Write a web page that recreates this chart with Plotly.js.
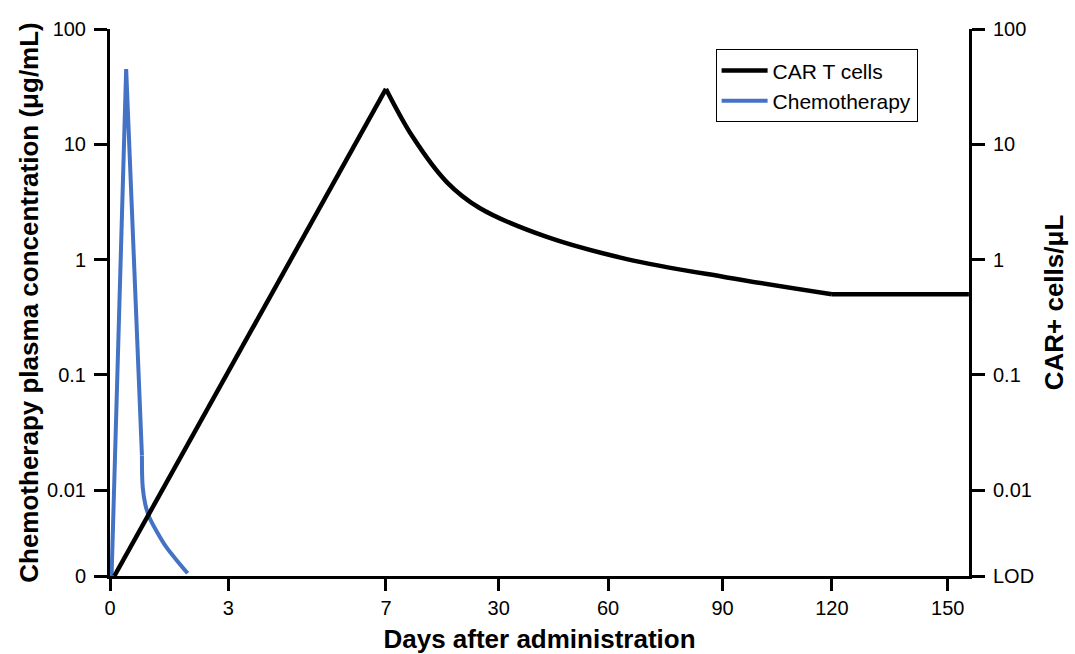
<!DOCTYPE html>
<html>
<head>
<meta charset="utf-8">
<script src="https://cdn.plot.ly/plotly-3.0.1.min.js"></script>
<style>html,body{margin:0;padding:0;background:#fff;}#chart{width:1075px;height:654px;}</style>
</head>
<body>
<div id="chart"></div>
<script>
// ---- data (days after administration, values) ----
const LOD = 0.0018; // limit of detection, shown as "0" / "LOD"

const carRiseDays    = [0.11, 7];
const carRiseValues  = [LOD, 30.2];
const carDecayDays   = [7, 12.45, 19.4, 26.1, 43.2, 64.9, 91.2, 120];
const carDecayValues = [30.2, 11.6, 4.7, 2.8, 1.57, 1.01, 0.70, 0.50];
const carPlateauDays   = [120, 155.5];
const carPlateauValues = [0.50, 0.50];

const chemoPeakDays   = [0.04, 0.41, 0.81];
const chemoPeakValues = [LOD, 45, 0.02];
const chemoTailDays   = [0.81, 0.83, 0.90, 1.0, 1.2, 1.43, 1.69, 1.97];
const chemoTailValues = [0.02, 0.0106, 0.0074, 0.0058, 0.0043, 0.0032, 0.00247, 0.0019];

const xTickDays   = [0, 3, 7, 30, 60, 90, 120, 150];
const xTickText   = ['0', '3', '7', '30', '60', '90', '120', '150'];
const yTickVals   = [100, 10, 1, 0.1, 0.01, LOD];
const yTickLeft   = ['100', '10', '1', '0.1', '0.01', '0'];
const yTickRight  = ['100', '10', '1', '0.1', '0.01', 'LOD'];

// ---- broken (piecewise linear) day axis ----
const KNOT_DAYS = [0, 7, 30, 60, 90, 120, 150];
const KNOT_POS  = [0, 275.8, 388.5, 497.8, 612.2, 721.5, 837.2];
function toPos(d) {
  for (let i = 0; i < KNOT_DAYS.length - 1; i++) {
    if (d <= KNOT_DAYS[i + 1] || i === KNOT_DAYS.length - 2) {
      const t = (d - KNOT_DAYS[i]) / (KNOT_DAYS[i + 1] - KNOT_DAYS[i]);
      return KNOT_POS[i] + t * (KNOT_POS[i + 1] - KNOT_POS[i]);
    }
  }
}

const FONT = '"Liberation Sans", Arial, sans-serif';
const yRange = [Math.log10(LOD), 2];
const BLACK = {color: '#000000', width: 4.5};
const BLUE = {color: '#4472C4', width: 4};

const traces = [
  {x: carRiseDays.map(toPos), y: carRiseValues, yaxis: 'y2', mode: 'lines',
   name: 'CAR T cells', line: BLACK},
  {x: carDecayDays.map(toPos), y: carDecayValues, yaxis: 'y2', mode: 'lines',
   name: 'CAR T cells', showlegend: false,
   line: Object.assign({shape: 'spline', smoothing: 1}, BLACK)},
  {x: carPlateauDays.map(toPos), y: carPlateauValues, yaxis: 'y2', mode: 'lines',
   name: 'CAR T cells', showlegend: false, line: BLACK},
  {x: chemoPeakDays.map(toPos), y: chemoPeakValues, yaxis: 'y', mode: 'lines',
   name: 'Chemotherapy', line: BLUE},
  {x: chemoTailDays.map(toPos), y: chemoTailValues, yaxis: 'y', mode: 'lines',
   name: 'Chemotherapy', showlegend: false,
   line: Object.assign({shape: 'spline', smoothing: 1}, BLUE)}
];

const axisCommon = {
  showline: true, linecolor: '#000', linewidth: 3,
  ticks: 'outside', ticklen: 13, tickwidth: 3, tickcolor: '#000',
  showgrid: false, zeroline: false,
  tickfont: {family: FONT, size: 20, color: '#000'}
};
const titleFont = {family: FONT, size: 26, color: '#000', weight: 'bold'};

const layout = {
  width: 1075, height: 654,
  margin: {l: 110, r: 106, t: 29, b: 78},
  paper_bgcolor: '#fff', plot_bgcolor: '#fff',
  font: {family: FONT, color: '#000'},
  showlegend: true,
  legend: {
    x: 0.705, y: 0.963, xanchor: 'left', yanchor: 'top',
    bordercolor: '#000', borderwidth: 1, bgcolor: '#fff',
    font: {family: FONT, size: 21, color: '#000'},
    itemwidth: 46, tracegroupgap: 0
  },
  xaxis: Object.assign({}, axisCommon, {
    range: [0, 858.5], tickmode: 'array',
    tickvals: xTickDays.map(toPos), ticktext: xTickText,
    ticklen: 12,
    title: {text: 'Days after administration', font: titleFont, standoff: 13}
  }),
  yaxis: Object.assign({}, axisCommon, {
    type: 'log', range: yRange, tickmode: 'array',
    tickvals: yTickVals, ticktext: yTickLeft, ticklabelstandoff: 4,
    title: {text: 'Chemotherapy plasma concentration (μg/mL)', font: titleFont, standoff: 1}
  }),
  yaxis2: Object.assign({}, axisCommon, {
    type: 'log', range: yRange, tickmode: 'array',
    tickvals: yTickVals, ticktext: yTickRight, ticklabelstandoff: 4,
    overlaying: 'y', side: 'right',
    title: {text: 'CAR+ cells/μL', font: titleFont, standoff: 12}
  })
};

Plotly.newPlot('chart', traces, layout, {displayModeBar: false, staticPlot: true});
</script>
</body>
</html>
